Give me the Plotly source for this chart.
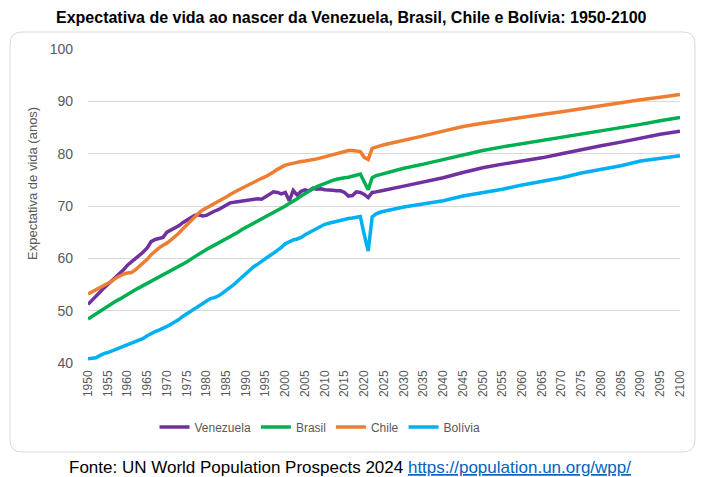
import plotly.graph_objects as go

years = list(range(1950, 2026)) + list(range(2030, 2101, 5))

venezuela = [51.2, 51.9, 52.7, 53.5, 54.3, 55.0, 55.7, 56.3, 57.0, 57.8,
             58.7, 59.3, 59.9, 60.5, 61.2, 62.0, 63.2, 63.6, 63.8, 64.0,
             65.0, 65.4, 65.7, 66.2, 66.8, 67.3, 67.7, 68.2, 68.3, 68.1,
             68.2, 68.7, 69.0, 69.3, 69.8, 70.3, 70.6, 70.7, 70.8, 71.0,
             71.1, 71.2, 71.3, 71.4, 71.3, 71.8, 72.2, 72.7, 72.6, 72.3,
             72.6, 71.0, 73.0, 72.1, 72.8, 73.1, 72.9, 73.4, 73.2, 73.3,
             73.1, 73.1, 73.0, 72.9, 72.9, 72.6, 71.9, 72.0, 72.7, 72.6,
             72.2, 71.6, 72.6, 72.7, 72.9, 73.0,
             73.8, 74.6, 75.4, 76.4, 77.3, 78.0, 78.6, 79.2, 80.0, 80.8,
             81.5, 82.2, 83.0, 83.7, 84.3]

brasil = [48.4, 48.9, 49.4, 49.9, 50.4, 50.9, 51.3, 51.8, 52.2, 52.7,
          53.2, 53.6, 54.0, 54.4, 54.8, 55.2, 55.6, 56.0, 56.4, 56.8,
          57.2, 57.6, 58.0, 58.4, 58.8, 59.3, 59.8, 60.3, 60.8, 61.3,
          61.7, 62.1, 62.5, 62.9, 63.3, 63.7, 64.1, 64.6, 65.0, 65.5,
          65.9, 66.3, 66.7, 67.1, 67.5, 67.9, 68.3, 68.7, 69.1, 69.6,
          70.0, 70.5, 70.9, 71.4, 71.9, 72.4, 72.8, 73.3, 73.7, 74.0,
          74.4, 74.7, 74.9, 75.1, 75.3, 75.4, 75.5, 75.7, 75.9, 76.1,
          74.6, 73.1, 75.4, 75.8, 76.0, 76.2,
          77.2, 78.0, 78.9, 79.8, 80.6, 81.3, 81.9, 82.5, 83.2, 83.8,
          84.4, 85.0, 85.6, 86.3, 86.9]

chile = [53.2, 53.6, 54.0, 54.4, 54.8, 55.2, 55.6, 56.2, 56.6, 57.0,
         57.2, 57.3, 57.8, 58.4, 59.0, 59.8, 60.7, 61.4, 62.0, 62.5,
         62.9, 63.5, 64.1, 64.8, 65.6, 66.4, 67.2, 67.9, 68.6, 69.2,
         69.6, 70.0, 70.4, 70.8, 71.2, 71.7, 72.2, 72.7, 73.0, 73.4,
         73.8, 74.2, 74.5, 74.9, 75.3, 75.6, 76.0, 76.5, 77.0, 77.4,
         77.8, 78.0, 78.2, 78.4, 78.5, 78.6, 78.7, 78.8, 79.0, 79.2,
         79.4, 79.6, 79.8, 80.0, 80.1, 80.3, 80.6, 80.6, 80.5, 80.4,
         79.3, 78.9, 81.0, 81.3, 81.5, 81.7,
         82.5, 83.4, 84.3, 85.2, 85.8, 86.4, 87.0, 87.5, 88.0, 88.6,
         89.2, 89.7, 90.3, 90.8, 91.3]

bolivia = [40.8, 40.9, 41.0, 41.4, 41.8, 42.0, 42.3, 42.6, 42.9, 43.2,
           43.5, 43.8, 44.2, 44.5, 44.7, 45.2, 45.7, 46.0, 46.3, 46.6,
           47.0, 47.4, 47.8, 48.3, 48.9, 49.4, 49.9, 50.4, 50.9, 51.5,
           51.9, 52.3, 52.5, 52.8, 53.3, 53.8, 54.3, 55.0, 55.7, 56.4,
           57.1, 57.8, 58.4, 58.9, 59.5, 60.0, 60.5, 61.0, 61.5, 62.1,
           62.8, 63.2, 63.5, 63.7, 64.0, 64.5, 64.9, 65.3, 65.7, 66.1,
           66.5, 66.7, 66.9, 67.1, 67.3, 67.5, 67.6, 67.7, 67.9, 68.0,
           64.5, 61.4, 67.9, 68.5, 68.8, 69.0,
           69.8, 70.4, 71.0, 71.9, 72.5, 73.2, 74.0, 74.7, 75.4, 76.3,
           77.0, 77.7, 78.6, 79.1, 79.6]

series_names = ["Venezuela", "Brasil", "Chile", "Bolívia"]
series_values = [venezuela, brasil, chile, bolivia]
colors = ["#7030A0", "#00B050", "#ED7D31", "#00B0F0"]

x_tick_vals = list(range(1950, 2101, 5))
x_tick_text = [str(v) for v in x_tick_vals]
y_tick_vals = [40, 50, 60, 70, 80, 90, 100]

title_text = "Expectativa de vida ao nascer da Venezuela, Brasil, Chile e Bolívia: 1950-2100"
y_title = "Expectativa de vida (anos)"
source_text = ("Fonte: UN World Population Prospects 2024 "
               "<span style='color:#0563C1'><u>https://population.un.org/wpp/</u></span>")

W, H = 702, 477
L, R, T, B = 88, 680, 49, 363
FONT = "Liberation Sans"
GRAY = "#595959"


def px(x):
    return (x - L) / (R - L)


def py(y):
    return (B - y) / (B - T)


fig = go.Figure()
for name, vals, col in zip(series_names, series_values, colors):
    fig.add_trace(go.Scatter(x=years, y=vals, name=name, mode="lines",
                             line=dict(color=col, width=3.5)))

# rounded container border
x0, x1, y0, y1, r = 10, 695, 32, 452, 12
path = (f"M {px(x0 + r)},{py(y0)} L {px(x1 - r)},{py(y0)} "
        f"Q {px(x1)},{py(y0)} {px(x1)},{py(y0 + r)} "
        f"L {px(x1)},{py(y1 - r)} Q {px(x1)},{py(y1)} {px(x1 - r)},{py(y1)} "
        f"L {px(x0 + r)},{py(y1)} Q {px(x0)},{py(y1)} {px(x0)},{py(y1 - r)} "
        f"L {px(x0)},{py(y0 + r)} Q {px(x0)},{py(y0)} {px(x0 + r)},{py(y0)} Z")

fig.update_layout(
    width=W, height=H,
    margin=dict(l=L, r=W - R, t=T, b=H - B),
    paper_bgcolor="white", plot_bgcolor="white",
    font=dict(family=FONT, color=GRAY),
    showlegend=True,
    legend=dict(orientation="h", x=px(320), xanchor="center",
                y=py(427), yanchor="middle",
                font=dict(size=12, color=GRAY, family=FONT),
                itemwidth=30, bgcolor="rgba(0,0,0,0)"),
    shapes=[dict(type="path", xref="paper", yref="paper", path=path,
                 line=dict(color="#D9D9D9", width=1), layer="below")],
    annotations=[
        dict(text="<b>" + title_text + "</b>", xref="paper", yref="paper",
             x=px(351), y=py(18), xanchor="center", yanchor="middle",
             showarrow=False, font=dict(size=16, color="black", family=FONT)),
        dict(text=source_text, xref="paper", yref="paper",
             x=px(350), y=py(467), xanchor="center", yanchor="middle",
             showarrow=False, font=dict(size=17, color="black", family=FONT)),
        dict(text=y_title, xref="paper", yref="paper",
             x=px(32), y=py(184), xanchor="center", yanchor="middle",
             textangle=-90, showarrow=False,
             font=dict(size=13, color=GRAY, family=FONT)),
    ],
)

fig.update_xaxes(range=[1950, 2100], tickmode="array", tickvals=x_tick_vals,
                 ticktext=x_tick_text, tickangle=-90, showgrid=False,
                 zeroline=False, showline=False,
                 tickfont=dict(size=12, color=GRAY, family=FONT),
                 ticks="", ticklabelstandoff=4, fixedrange=True)
fig.update_yaxes(range=[40, 100], tickmode="array", tickvals=y_tick_vals,
                 showgrid=True, gridcolor="#D9D9D9", gridwidth=1,
                 zeroline=False, showline=False,
                 tickfont=dict(size=14, color=GRAY, family=FONT),
                 ticks="", ticklabelstandoff=14, fixedrange=True)

fig.write_html("out.html",
               config={"displayModeBar": False},
               post_script="document.body.style.margin='0';"
                           "document.body.style.overflow='hidden';")
